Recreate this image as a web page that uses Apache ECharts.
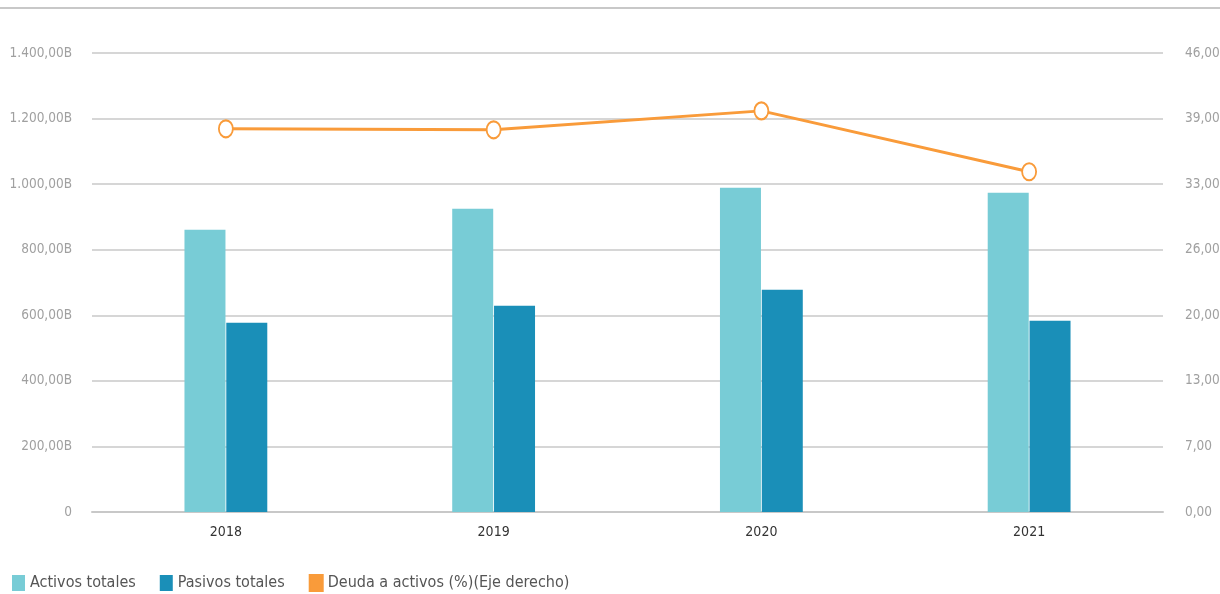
<!DOCTYPE html>
<html><head><meta charset="utf-8">
<script src="https://cdn.jsdelivr.net/npm/echarts@6/dist/echarts.min.js"></script>
<style>html,body{margin:0;padding:0;background:#fff;overflow:hidden}#c{width:1220px;height:594px}</style>
</head><body><div id="c"></div>
<script>
const categories = ['2018','2019','2020','2021'];
const activos = [861, 925, 989, 974];
const pasivos = [577, 629, 678, 583];
const deuda = [38.4, 38.3, 40.2, 34.1];
const leftMax = 1400, leftInterval = 200;
const rightMax = 46, rightSplits = 7;

const font = "'DejaVu Sans Condensed', 'Liberation Sans Narrow', Roboto, sans-serif";
const chart = echarts.init(document.getElementById('c'));
chart.setOption({
  animation: false,
  textStyle: {fontFamily: font},
  graphic: [{type:'line', shape:{x1:0,y1:8,x2:1220,y2:8}, style:{stroke:'#c8c8c8', lineWidth:2}}],
  grid: {left: 92, right: 57, top: 53, bottom: 82, outerBoundsMode: 'none', containLabel: false},
  legend: {
    left: 7, top: 569, itemWidth: 13, itemHeight: 16, itemGap: 24,
    textStyle: {fontSize: 16, color: '#555', fontFamily: font},
    data: [
      {name:'Activos totales', icon:'rect'},
      {name:'Pasivos totales', icon:'rect'},
      {name:'Deuda a activos (%)(Eje derecho)', icon:'rect'}
    ]
  },
  xAxis: {
    type: 'category', data: categories,
    axisLine: {lineStyle: {color: '#c8c8c8', width: 2}},
    axisTick: {show: false},
    axisLabel: {color: '#333', fontSize: 14, margin: 13, fontFamily: font}
  },
  yAxis: [{
    type: 'value', min: 0, max: leftMax, interval: leftInterval,
    axisLine: {show:false}, axisTick: {show:false},
    splitLine: {lineStyle: {color: '#d6d6d6', width: 2}},
    axisLabel: {color: '#a0a0a0', fontSize: 13.5, margin: 20, fontFamily: font,
      formatter: v => v === 0 ? '0' : v.toLocaleString('de-DE') + ',00B'}
  },{
    type: 'value', min: 0, max: rightMax, interval: rightMax / rightSplits,
    axisLine: {show:false}, axisTick: {show:false}, splitLine: {show:false},
    axisLabel: {color: '#a0a0a0', fontSize: 13.5, margin: 22, fontFamily: font,
      formatter: v => Math.round(v) + ',00'}
  }],
  series: [
    {name:'Activos totales', type:'bar', data: activos, barWidth: 41, barGap: '2%',
      itemStyle: {color: '#78CCD6'}},
    {name:'Pasivos totales', type:'bar', data: pasivos, barWidth: 41,
      itemStyle: {color: '#1A8FB8'}},
    {name:'Deuda a activos (%)(Eje derecho)', type:'line', yAxisIndex: 1, data: deuda,
      symbol: 'emptyCircle', symbolSize: [14, 17],
      lineStyle: {color: '#F99B3A', width: 3},
      itemStyle: {color: '#F99B3A', borderWidth: 2.5, borderColor:'#F99B3A'}}
  ]
});
</script></body></html>
